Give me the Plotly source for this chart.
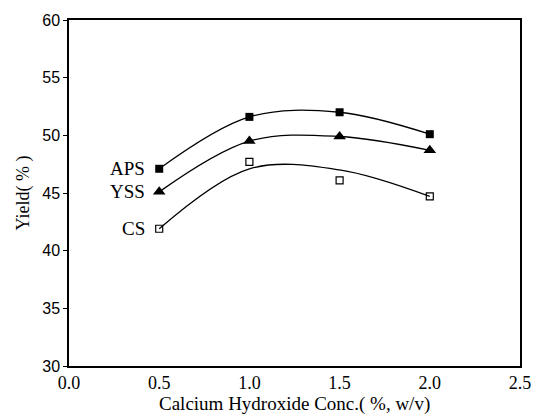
import plotly.graph_objects as go

conc = [0.5, 1.0, 1.5, 2.0]
aps = [47.1, 51.6, 52.0, 50.1]
yss = [45.1, 49.5, 49.9, 48.7]
cs = [41.9, 47.7, 46.1, 44.7]
cs_trend = [41.9, 47.1, 47.0, 44.7]
series_labels = ["APS", "YSS", "CS"]
x_ticks = [0.0, 0.5, 1.0, 1.5, 2.0, 2.5]
y_ticks = [30, 35, 40, 45, 50, 55, 60]

serif = "Liberation Serif, Times New Roman, serif"
sans = "Liberation Sans, Arial, sans-serif"

fig = go.Figure()
line_style = dict(color="black", width=1.3, shape="spline", smoothing=1.0)

fig.add_trace(go.Scatter(x=conc, y=aps, mode="lines+markers", line=line_style,
                         marker=dict(symbol="square", size=8, color="black"),
                         name="APS", showlegend=False))
fig.add_trace(go.Scatter(x=conc, y=yss, mode="lines+markers", line=line_style,
                         marker=dict(symbol="triangle-up", size=11, color="black"),
                         name="YSS", showlegend=False))
fig.add_trace(go.Scatter(x=conc, y=cs_trend, mode="lines", line=line_style,
                         name="CS fit", showlegend=False))
fig.add_trace(go.Scatter(x=conc, y=cs, mode="markers",
                         marker=dict(symbol="square-open", size=7, color="black",
                                     line=dict(width=1.2, color="black")),
                         name="CS", showlegend=False))

for lab, yv in zip(series_labels, [aps[0], yss[0], cs[0]]):
    fig.add_annotation(x=conc[0], y=yv, text=lab, showarrow=False,
                       xanchor="right", xshift=-12, yshift=0,
                       font=dict(family=serif, size=19, color="black"))

fig.update_xaxes(range=[0, 2.5], tickvals=x_ticks,
                 ticktext=[f"{v:.1f}" for v in x_ticks],
                 showgrid=False, zeroline=False, showline=True, mirror=True,
                 linecolor="black", linewidth=1.5, ticks="",
                 tickfont=dict(family=serif, size=18, color="black"))
fig.update_yaxes(range=[30, 60], tickvals=y_ticks,
                 showgrid=False, zeroline=False, showline=True, mirror=True,
                 linecolor="black", linewidth=1.5, ticks="outside", ticklen=4,
                 tickcolor="black", tickwidth=1,
                 tickfont=dict(family=sans, size=16, color="black"))

fig.add_annotation(xref="paper", yref="paper", x=0.5, y=-0.111,
                   text="Calcium Hydroxide Conc.( %, w/v)", showarrow=False,
                   xanchor="center", yanchor="middle",
                   font=dict(family=serif, size=19, color="black"))
fig.add_annotation(xref="paper", yref="paper", x=-0.103, y=0.5,
                   text="Yield( % )", showarrow=False, textangle=-90,
                   xanchor="center", yanchor="middle",
                   font=dict(family=serif, size=18, color="black"))

fig.update_layout(width=543, height=417,
                  margin=dict(l=69, r=17, t=16, b=51),
                  paper_bgcolor="white", plot_bgcolor="white")

fig.write_html("out.html")
